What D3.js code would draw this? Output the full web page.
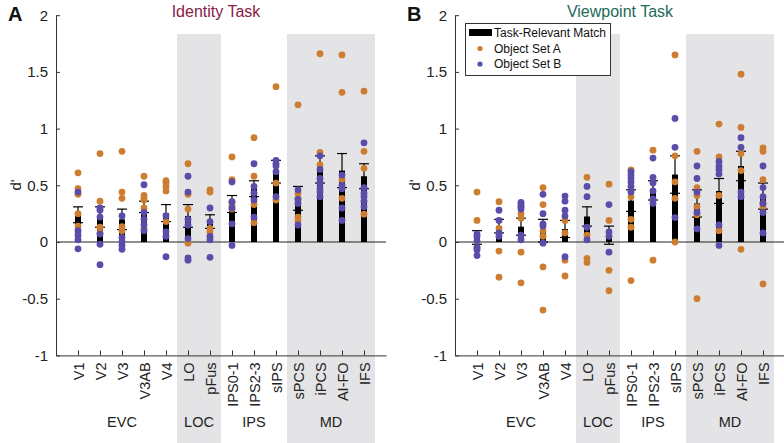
<!DOCTYPE html>
<html><head><meta charset="utf-8">
<script src="https://cdn.jsdelivr.net/npm/d3@7"></script>
<style>
body{margin:0;background:#fff;}
svg{font-family:"Liberation Sans",Arial,sans-serif;}
</style></head>
<body><svg id="c" width="784" height="443"></svg>
<script>
const categories = ["V1","V2","V3","V3AB","V4","LO","pFus","IPS0-1","IPS2-3","sIPS","sPCS","iPCS","AI-FO","IFS"];
const groups = ["EVC","LOC","IPS","MD"];
const groupStart = [0,5,7,10];
const groupEnd = [4,6,9,13];
const groupShaded = [false,true,false,true];
const yTicks = [-1,-0.5,0,0.5,1,1.5,2];

const idMean = [0.24,0.22,0.20,0.31,0.255,0.23,0.18,0.335,0.47,0.62,0.385,0.64,0.63,0.58];
const idSE   = [0.07,0.09,0.09,0.05,0.075,0.10,0.06,0.075,0.07,0.10,0.105,0.12,0.15,0.11];
const idSetA = [
 [0.61,0.47,0.42,0.25,0.14],
 [0.78,0.36,0.13,0.08],
 [0.80,0.44,0.385,0.135,0.10],
 [0.58,0.41,0.39,0.37,0.30,0.12],
 [0.54,0.52,0.49,0.45,0.18],
 [0.69,0.42,0.29,-0.01],
 [0.46,0.44,0.12,0.09],
 [0.75,0.55,0.35,0.32,0.29],
 [0.92,0.58,0.33,0.17],
 [1.37,0.52,0.37],
 [1.21,0.43,0.385,0.22,0.19],
 [1.66,0.79,0.68],
 [1.65,1.32,0.55,0.385],
 [1.33,0.80,0.65,0.245]
];
const idSetB = [
 [0.44,0.10,0.06,0.02,-0.06],
 [0.30,0.28,0.22,0.07,-0.02,-0.20],
 [0.23,0.04,0.0,-0.03,-0.065],
 [0.505,0.26,0.20,0.15,0.10],
 [0.23,0.09,0.05,-0.13],
 [0.58,0.44,0.20,0.15,0.03,-0.14,-0.16],
 [0.30,0.18,0.05,0.02,-0.135],
 [0.53,0.355,0.30,0.16,-0.03],
 [0.69,0.49,0.43,0.37,0.22],
 [0.72,0.69,0.67,0.62,0.40],
 [0.46,0.375,0.34,0.15],
 [0.76,0.64,0.56,0.52,0.47,0.44,0.40],
 [0.59,0.50,0.47,0.30,0.19],
 [0.875,0.48,0.43,0.40,0.36,0.31]
];

const vpMean = [0.04,0.14,0.135,0.10,0.115,0.225,0.06,0.365,0.455,0.595,0.34,0.45,0.67,0.405];
const vpSE   = [0.06,0.06,0.075,0.10,0.075,0.085,0.08,0.095,0.085,0.165,0.12,0.11,0.13,0.115];
const vpSetA = [
 [0.44,0.19,-0.05],
 [0.355,0.12,-0.08,-0.31],
 [0.31,0.25,0.21,-0.09,-0.36],
 [0.48,0.33,0.10,0.05,-0.22,-0.60],
 [0.19,0.08,-0.16,-0.30],
 [0.57,0.06,-0.145,-0.18],
 [0.51,0.19,-0.25,-0.43],
 [0.635,0.40,0.20,0.13,-0.34],
 [0.81,0.37,-0.16],
 [1.65,0.76,0.53,0.385,0.0],
 [0.80,0.48,0.41,0.31,0.24,-0.50],
 [1.04,0.75,0.41,0.10],
 [1.48,1.01,0.78,0.63,-0.065],
 [0.83,0.80,0.55,0.34,0.31,-0.37]
];
const vpSetB = [
 [0.07,0.05,0.01,-0.05,-0.07,-0.12],
 [0.28,0.19,0.08,0.05],
 [0.35,0.33,0.31,0.29,0.06,0.02],
 [0.42,0.25,0.16,0.14,-0.01],
 [0.405,0.36,0.28,0.23,-0.13],
 [0.49,0.40,0.13,0.02],
 [0.33,0.09,0.05,-0.09],
 [0.62,0.59,0.56,0.53,0.49,0.44],
 [0.74,0.57,0.52,0.45,0.38,0.34],
 [1.09,0.835,0.215],
 [0.67,0.56,0.44,0.26,0.115],
 [0.71,0.67,0.64,0.60,0.15,-0.03],
 [0.92,0.835,0.44,0.40],
 [0.67,0.48,0.40,0.34,0.26,0.08]
];

const colA = "#cc7d30", colB = "#5a4ca8";
const svg = d3.select("#c");

function panel(opt){
  const x = d3.scaleLinear().domain([0,15]).range([opt.x0, opt.x0+330]);
  const y = d3.scaleLinear().domain([-1,2]).range([355.4,15.2]);
  const g = svg.append("g");
  groups.forEach((gr,i)=>{
    if(groupShaded[i]){
      g.append("rect").attr("x",x(groupStart[i]+0.5)).attr("y",34)
       .attr("width",x(groupEnd[i]+1.5)-x(groupStart[i]+0.5)).attr("height",443-34)
       .attr("fill","#e4e4e6");
    }
  });
  g.append("line").attr("x1",x(0)).attr("x2",x(15)).attr("y1",y(0)).attr("y2",y(0))
   .attr("stroke","#222").attr("stroke-width",1);
  const bw = 6, cw = 10;
  g.selectAll(".bar").data(opt.mean).join("rect")
   .attr("x",(d,i)=>x(i+1)-bw/2).attr("width",bw)
   .attr("y",d=>Math.min(y(d),y(0))).attr("height",d=>Math.abs(y(0)-y(d)))
   .attr("fill","#000");
  opt.mean.forEach((m,i)=>{
    const cx = x(i+1), lo=m-opt.se[i], hi=m+opt.se[i];
    g.append("line").attr("x1",cx).attr("x2",cx).attr("y1",y(lo)).attr("y2",y(hi)).attr("stroke","#000").attr("stroke-width",1.2);
    [lo,hi].forEach(v=>g.append("line").attr("x1",cx-cw/2).attr("x2",cx+cw/2).attr("y1",y(v)).attr("y2",y(v)).attr("stroke","#000").attr("stroke-width",1.2));
  });
  const pts=[];
  opt.setA.forEach((arr,i)=>arr.forEach(v=>pts.push({i,v,c:colA})));
  opt.setB.forEach((arr,i)=>arr.forEach(v=>pts.push({i,v,c:colB})));
  g.selectAll(".pt").data(pts).join("circle")
   .attr("cx",d=>x(d.i+1)).attr("cy",d=>y(d.v)).attr("r",3.4).attr("fill",d=>d.c);
  const ya = g.append("g").attr("transform",`translate(${x(0)},0)`)
   .call(d3.axisLeft(y).tickValues(yTicks).tickFormat(d=>String(d)).tickSize(-4).tickSizeOuter(0).tickPadding(8));
  ya.selectAll("text").attr("font-size",15).attr("fill","#222").attr("font-family","Liberation Sans, Arial, sans-serif");
  ya.selectAll("line,path").attr("stroke","#333");
  const xa = g.append("g").attr("transform",`translate(0,${y(-1)})`)
   .call(d3.axisBottom(x).tickValues(d3.range(1,15)).tickFormat(d=>categories[d-1]).tickSize(-5).tickSizeOuter(0));
  xa.selectAll("line,path").attr("stroke","#333");
  xa.selectAll("text").attr("transform","rotate(-90)").attr("text-anchor","end")
    .attr("x",-7).attr("y",0).attr("dy","0.36em").attr("font-size",14.5).attr("fill","#222")
    .attr("font-family","Liberation Sans, Arial, sans-serif");
  groups.forEach((gr,i)=>{
    g.append("text").attr("x",x((groupStart[i]+groupEnd[i])/2+1)).attr("y",427)
     .attr("text-anchor","middle").attr("font-size",14.5).attr("fill","#222").text(gr);
  });
  g.append("text").attr("transform",`translate(${opt.x0-35},185) rotate(-90)`)
   .attr("text-anchor","middle").attr("font-size",15).attr("fill","#222").text("d'");
  g.append("text").attr("x",opt.x0-48).attr("y",21).attr("font-size",20).attr("font-weight","bold").attr("fill","#111").text(opt.letter);
  g.append("text").attr("x",opt.titleX).attr("y",17).attr("text-anchor","middle").attr("font-size",16)
   .attr("fill",opt.titleColor).text(opt.title);
}

panel({x0:56, mean:idMean, se:idSE, setA:idSetA, setB:idSetB, letter:"A", title:"Identity Task", titleX:216, titleColor:"#8a2045"});
panel({x0:455, mean:vpMean, se:vpSE, setA:vpSetA, setB:vpSetB, letter:"B", title:"Viewpoint Task", titleX:620, titleColor:"#1c6b56"});

const lg = svg.append("g");
lg.append("rect").attr("x",465.5).attr("y",23.5).attr("width",145).attr("height",52).attr("fill","#fff").attr("stroke","#333");
const legItems = ["Task-Relevant Match","Object Set A","Object Set B"];
const legY = [32.5,48.5,64];
lg.append("rect").attr("x",469).attr("y",legY[0]-3.5).attr("width",23).attr("height",7).attr("fill","#000");
lg.append("circle").attr("cx",480).attr("cy",legY[1]).attr("r",2.6).attr("fill",colA);
lg.append("circle").attr("cx",480).attr("cy",legY[2]).attr("r",2.6).attr("fill",colB);
legItems.forEach((t,i)=>lg.append("text").attr("x",494).attr("y",legY[i]).attr("dy","0.36em").attr("font-size",12).attr("fill","#111").text(t));
</script></body></html>
